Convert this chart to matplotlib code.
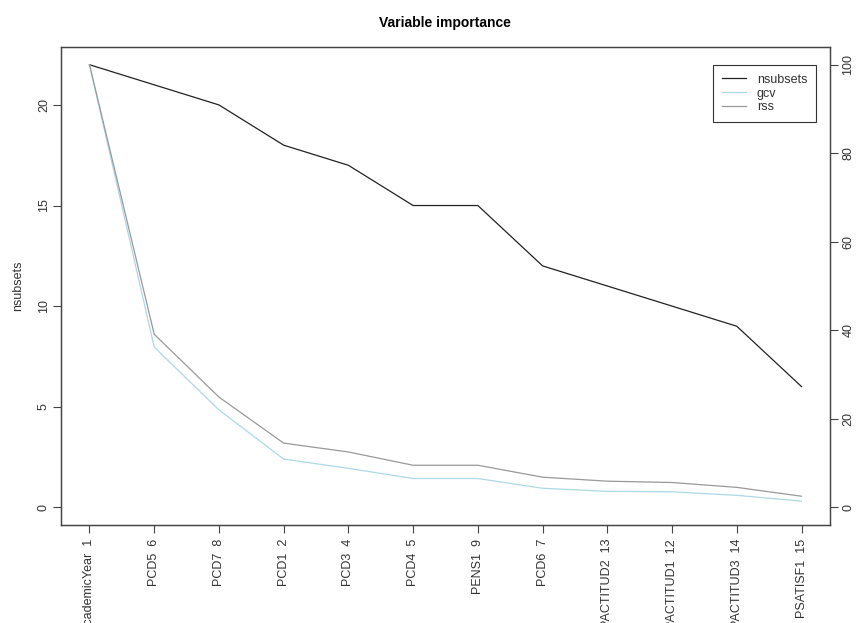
import matplotlib
matplotlib.use('Agg')
import matplotlib.pyplot as plt
import numpy as np

plt.rcParams['font.family'] = ['Liberation Sans', 'DejaVu Sans']

# variables in order of importance, with their column index
variables = ['AcademicYear', 'PCD5', 'PCD7', 'PCD1', 'PCD3', 'PCD4', 'PENS1',
             'PCD6', 'PACTITUD2', 'PACTITUD1', 'PACTITUD3', 'PSATISF1']
var_index = [1, 6, 8, 2, 4, 5, 9, 7, 13, 12, 14, 15]
nsubsets = [22, 21, 20, 18, 17, 15, 15, 12, 11, 10, 9, 6]
# gcv and rss scaled to 0..100 (right axis)
gcv = [100, 36.2, 22.0, 10.9, 8.8, 6.5, 6.5, 4.3, 3.6, 3.5, 2.7, 1.4]
rss = [100, 39.1, 24.9, 14.5, 12.5, 9.5, 9.5, 6.8, 5.9, 5.6, 4.5, 2.5]

W, H = 859, 623
fig = plt.figure(figsize=(W/100, H/100), dpi=100)
ax = fig.add_axes([61/W, 1-525/H, (830-61)/W, (525-47)/H])
ax2 = ax.twinx()

x = np.arange(len(variables))
ymax = max(nsubsets)
pad = 0.04*ymax
ax.set_ylim(-pad, ymax+pad)
ax2.set_ylim(-pad*100/ymax, (ymax+pad)*100/ymax)
ax.set_xlim(-0.04*(len(x)-1), (len(x)-1)*1.04)

l1, = ax.plot(x, nsubsets, color='#222222', lw=0.9)
l2, = ax2.plot(x, gcv, color='#add8e6', lw=0.9)
l3, = ax2.plot(x, rss, color='#999999', lw=0.9)

axcol = '#444444'
for a in (ax, ax2):
    for s in a.spines.values():
        s.set_color(axcol)
        s.set_linewidth(0.9)
    a.tick_params(direction='out', length=6, width=0.8, color=axcol,
                  labelsize=9, labelcolor='#333333', pad=4)
ax.tick_params(axis='y', pad=2)
ax2.tick_params(axis='y', pad=3)

ax.set_xticks(x)
ax.set_xticklabels(['%s  %d' % (v, i) for v, i in zip(variables, var_index)],
                   rotation=90, va='top', ha='center')
ax.set_yticks([0, 5, 10, 15, 20])
ax.set_yticklabels(['0', '5', '10', '15', '20'], rotation=90, va='center')
ax2.set_yticks([0, 20, 40, 60, 80, 100])
ax2.set_yticklabels(['0', '20', '40', '60', '80', '100'], rotation=90, va='center')
ax.set_ylabel('nsubsets', fontsize=9, color='#333333', labelpad=10)

fig.text(445/W, 1-23/H, 'Variable importance', ha='center', va='center',
         fontsize=10, fontweight='bold')

leg = fig.legend([l1, l2, l3], ['nsubsets', 'gcv', 'rss'], loc='upper left',
                 bbox_to_anchor=(713/W, 1-65/H), borderaxespad=0, fancybox=False,
                 fontsize=9, handlelength=1.9, labelspacing=0.15, handletextpad=0.9,
                 borderpad=0.7, framealpha=1)
leg.get_frame().set_edgecolor('#333333')
leg.get_frame().set_linewidth(0.8)
for t in leg.get_texts():
    t.set_color('#333333')

fig.savefig('out.png', dpi=100)
